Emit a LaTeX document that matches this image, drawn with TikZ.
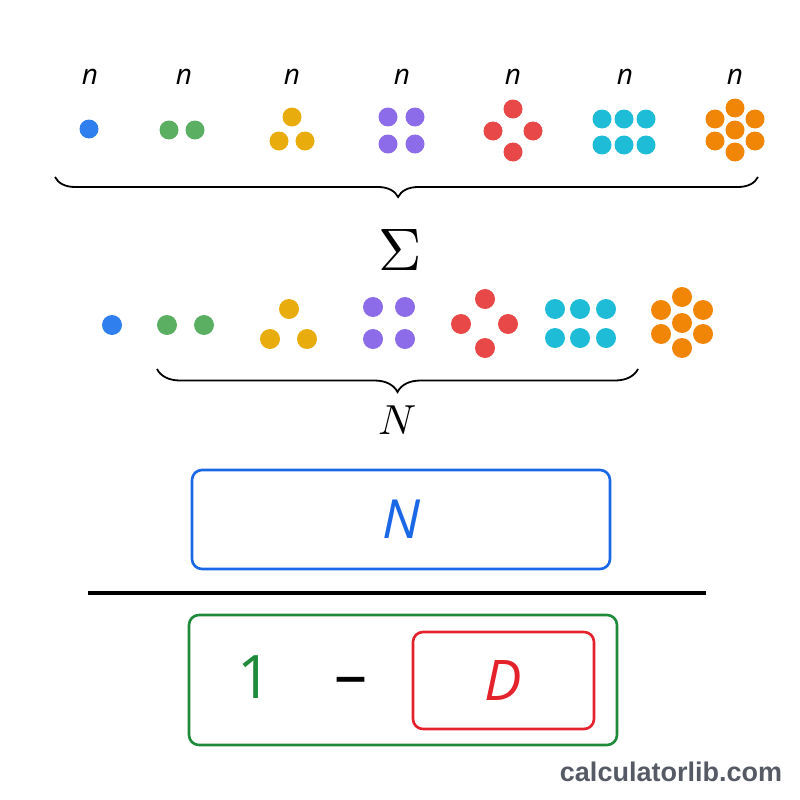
\documentclass[tikz,border=0pt]{standalone}
\usepackage{fontspec}
\usepackage{unicode-math}
\setmathfont{Latin Modern Math}
\setsansfont{Open Sans}
\newfontfamily\wmfont{Liberation Sans}
\usetikzlibrary{decorations.pathreplacing}
\definecolor{dblue}{HTML}{2F80EE}
\definecolor{dgreen}{HTML}{5BAF63}
\definecolor{dyellow}{HTML}{E8AC0C}
\definecolor{dpurple}{HTML}{8C6CE8}
\definecolor{dred}{HTML}{E84848}
\definecolor{dcyan}{HTML}{1EBCD6}
\definecolor{dorange}{HTML}{F08506}
\definecolor{bblue}{HTML}{1A68E6}
\definecolor{bgreen}{HTML}{1F8A3A}
\definecolor{bred}{HTML}{E4222C}
\definecolor{wm}{HTML}{555A64}
\begin{document}
\begin{tikzpicture}[x=1pt,y=-1pt,
  dot/.style={circle,inner sep=0pt,minimum size=19pt,fill=#1,draw=none},
  bdot/.style={circle,inner sep=0pt,minimum size=20pt,fill=#1,draw=none},
  nlab/.style={font=\sffamily\itshape\fontsize{28}{28}\selectfont,inner sep=0pt},
  bracestyle/.style={decorate,decoration={brace,mirror,amplitude=#1},line width=1.8pt},
  box/.style={draw=#1,line width=2.6pt,rounded corners=10pt,inner sep=0pt}]
\useasboundingbox (0,0) rectangle (800,800);
% top labels
\foreach \x [count=\i] in {90,184,292,402,513,625,735}
  \node[nlab] (n\i) at (\x,77) {n};
% top dots
\node[dot=dblue] (a1) at (89,129) {};
\node[dot=dgreen] (a2a) at (169,130) {};
\node[dot=dgreen] (a2b) at (195,130) {};
\node[dot=dyellow] (a3a) at (292,117) {};
\node[dot=dyellow] (a3b) at (279,141) {};
\node[dot=dyellow] (a3c) at (305,141) {};
\node[dot=dpurple] (a4a) at (388,117) {};
\node[dot=dpurple] (a4b) at (415,117) {};
\node[dot=dpurple] (a4c) at (388,144) {};
\node[dot=dpurple] (a4d) at (415,144) {};
\node[dot=dred] (a5a) at (513,109) {};
\node[dot=dred] (a5b) at (493,131) {};
\node[dot=dred] (a5c) at (533,131) {};
\node[dot=dred] (a5d) at (513,152) {};
\foreach \x [count=\i] in {602,624,646}{
  \node[dot=dcyan] (a6t\i) at (\x,119) {};
  \node[dot=dcyan] (a6b\i) at (\x,145) {};}
\node[dot=dorange] (a7c) at (735,130) {};
\node[dot=dorange] (a7t) at (735,108) {};
\node[dot=dorange] (a7b) at (735,152) {};
\node[dot=dorange] (a7ul) at (715,119) {};
\node[dot=dorange] (a7ur) at (755,119) {};
\node[dot=dorange] (a7ll) at (715,141) {};
\node[dot=dorange] (a7lr) at (755,141) {};
% top brace
\coordinate (b1l) at (55,177);
\coordinate (b1r) at (758,177);
\draw[bracestyle=20pt,decoration={aspect=0.488}] (b1l) -- (b1r);
\node (sig) at (400,250) {\fontsize{60}{60}\selectfont$\Sigma$};
% second row dots
\node[bdot=dblue] (c1) at (112,325) {};
\node[bdot=dgreen] (c2a) at (167,325) {};
\node[bdot=dgreen] (c2b) at (204,325) {};
\node[bdot=dyellow] (c3a) at (289,309) {};
\node[bdot=dyellow] (c3b) at (270,339) {};
\node[bdot=dyellow] (c3c) at (307,339) {};
\node[bdot=dpurple] (c4a) at (373,307) {};
\node[bdot=dpurple] (c4b) at (405,307) {};
\node[bdot=dpurple] (c4c) at (373,339) {};
\node[bdot=dpurple] (c4d) at (405,339) {};
\node[bdot=dred] (c5a) at (485,299) {};
\node[bdot=dred] (c5b) at (461,324) {};
\node[bdot=dred] (c5c) at (508,324) {};
\node[bdot=dred] (c5d) at (485,348) {};
\foreach \x [count=\i] in {555,580,606}{
  \node[bdot=dcyan] (c6t\i) at (\x,309) {};
  \node[bdot=dcyan] (c6b\i) at (\x,338) {};}
\node[bdot=dorange] (c7c) at (682,323) {};
\node[bdot=dorange] (c7t) at (682,297) {};
\node[bdot=dorange] (c7b) at (682,348) {};
\node[bdot=dorange] (c7ul) at (661,310) {};
\node[bdot=dorange] (c7ur) at (703,310) {};
\node[bdot=dorange] (c7ll) at (661,334) {};
\node[bdot=dorange] (c7lr) at (703,334) {};
% second brace
\coordinate (b2l) at (157,369);
\coordinate (b2r) at (638,369);
\draw[bracestyle=23pt] (b2l) -- (b2r);
\node (bigN) at (398,420) {\fontsize{42}{42}\selectfont$N$};
% fraction
\node[box=bblue,minimum width=418pt,minimum height=99pt,text=bblue,
  font=\sffamily\itshape\fontsize{54}{54}\selectfont] (num) at (401,519.5) {N};
\coordinate (fl) at (88,593);
\coordinate (fr) at (706,593);
\draw[line width=4pt] (fl) -- (fr);
\node[box=bgreen,minimum width=428pt,minimum height=130pt] (den) at (403,680) {};
\node[text=bgreen,font=\sffamily\fontsize{60}{60}\selectfont,inner sep=0pt] (one) at (255,677) {1};
\node[font=\sffamily\fontsize{66}{66}\selectfont,inner sep=0pt] (minus) at (351,687) {\textendash};
\node[box=bred,minimum width=181pt,minimum height=97pt,text=bred,
  font=\sffamily\itshape\fontsize{56}{56}\selectfont] (dbox) at (503.5,680.5) {D};
% watermark
\node[text=wm,font=\wmfont\bfseries\fontsize{27}{27}\selectfont] (wmark) at (671,772) {calculatorlib.com};
\end{tikzpicture}
\end{document}
